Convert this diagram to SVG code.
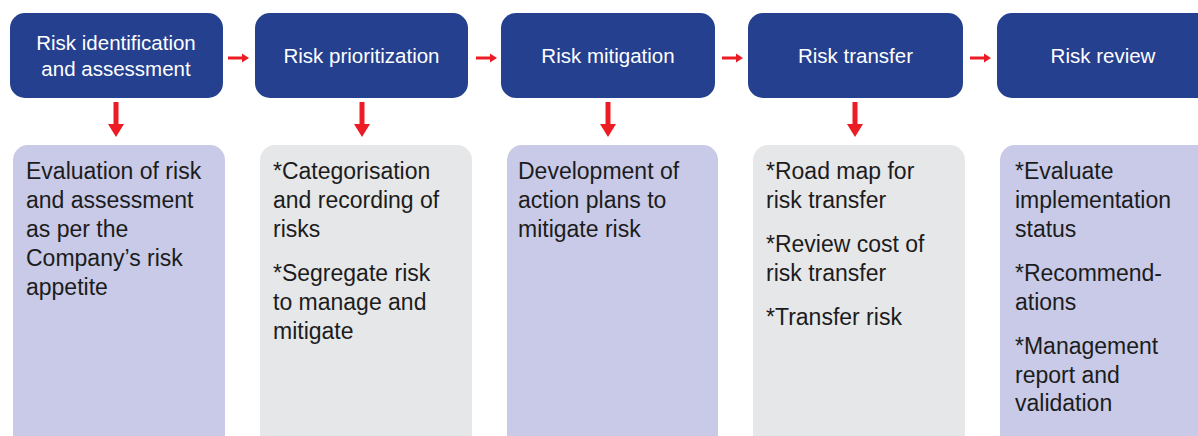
<svg xmlns="http://www.w3.org/2000/svg" width="1198" height="436" viewBox="0 0 1198 436">
<style>
.top{fill:#25408f;}
.tt{fill:#ffffff;font-family:"Liberation Sans",Arial,sans-serif;font-size:20.5px;text-anchor:middle;}
.lav{fill:#c8cae7;}
.gry{fill:#e6e7e9;}
.bt{fill:#1c1c1c;font-family:"Liberation Sans",Arial,sans-serif;font-size:23px;}
.arr{fill:#ed1c24;}
</style>
<rect width="1198" height="436" fill="#ffffff"/>
<g id="step1">
<rect class="top" x="10" y="13" width="213" height="85" rx="15"/>
<text class="tt" x="116" y="50">Risk identification</text>
<text class="tt" x="116" y="76">and assessment</text>
</g>
<g id="step2">
<rect class="top" x="255" y="13" width="213" height="85" rx="15"/>
<text class="tt" x="361.5" y="63">Risk prioritization</text>
</g>
<g id="step3">
<rect class="top" x="501" y="13" width="214" height="85" rx="15"/>
<text class="tt" x="608" y="63">Risk mitigation</text>
</g>
<g id="step4">
<rect class="top" x="748" y="13" width="215" height="85" rx="15"/>
<text class="tt" x="855.5" y="63">Risk transfer</text>
</g>
<g id="step5">
<rect class="top" x="997" y="13" width="215" height="85" rx="15"/>
<text class="tt" x="1103" y="63">Risk review</text>
</g>
<g id="detail1">
<rect class="lav" x="13" y="145" width="212" height="320" rx="15"/>
<text class="bt" x="26" y="179">Evaluation of risk</text>
<text class="bt" x="26" y="208">and assessment</text>
<text class="bt" x="26" y="237">as per the</text>
<text class="bt" x="26" y="266">Company’s risk</text>
<text class="bt" x="26" y="295">appetite</text>
</g>
<g id="detail2">
<rect class="gry" x="260" y="145" width="212" height="320" rx="15"/>
<text class="bt" x="273" y="179">*Categorisation</text>
<text class="bt" x="273" y="208">and recording of</text>
<text class="bt" x="273" y="237">risks</text>
<text class="bt" x="273" y="281">*Segregate risk</text>
<text class="bt" x="273" y="310">to manage and</text>
<text class="bt" x="273" y="339">mitigate</text>
</g>
<g id="detail3">
<rect class="lav" x="507" y="145" width="211" height="320" rx="15"/>
<text class="bt" x="518" y="179">Development of</text>
<text class="bt" x="518" y="208">action plans to</text>
<text class="bt" x="518" y="237">mitigate risk</text>
</g>
<g id="detail4">
<rect class="gry" x="753" y="145" width="212" height="320" rx="15"/>
<text class="bt" x="766" y="179">*Road map for</text>
<text class="bt" x="766" y="208">risk transfer</text>
<text class="bt" x="766" y="252">*Review cost of</text>
<text class="bt" x="766" y="281">risk transfer</text>
<text class="bt" x="766" y="325">*Transfer risk</text>
</g>
<g id="detail5">
<rect class="lav" x="1000" y="145" width="212" height="320" rx="15"/>
<text class="bt" x="1015" y="179">*Evaluate</text>
<text class="bt" x="1015" y="208">implementation</text>
<text class="bt" x="1015" y="237">status</text>
<text class="bt" x="1015" y="281">*Recommend-</text>
<text class="bt" x="1015" y="310">ations</text>
<text class="bt" x="1015" y="354">*Management</text>
<text class="bt" x="1015" y="383">report and</text>
<text class="bt" x="1015" y="411">validation</text>
</g>
<g id="connectors">
<polygon class="arr" points="228,56.5 242,56.5 242,53.5 249,58 242,62.5 242,59.5 228,59.5"/>
<polygon class="arr" points="476,56.5 490,56.5 490,53.5 497,58 490,62.5 490,59.5 476,59.5"/>
<polygon class="arr" points="722,56.5 736,56.5 736,53.5 743,58 736,62.5 736,59.5 722,59.5"/>
<polygon class="arr" points="970,56.5 984,56.5 984,53.5 991,58 984,62.5 984,59.5 970,59.5"/>
<polygon class="arr" points="113.5,102 118.5,102 118.5,124 124,124 116,137 108,124 113.5,124"/>
<polygon class="arr" points="359.5,102 364.5,102 364.5,124 370,124 362,137 354,124 359.5,124"/>
<polygon class="arr" points="605.5,102 610.5,102 610.5,124 616,124 608,137 600,124 605.5,124"/>
<polygon class="arr" points="852.5,102 857.5,102 857.5,124 863,124 855,137 847,124 852.5,124"/>
</g>
</svg>
